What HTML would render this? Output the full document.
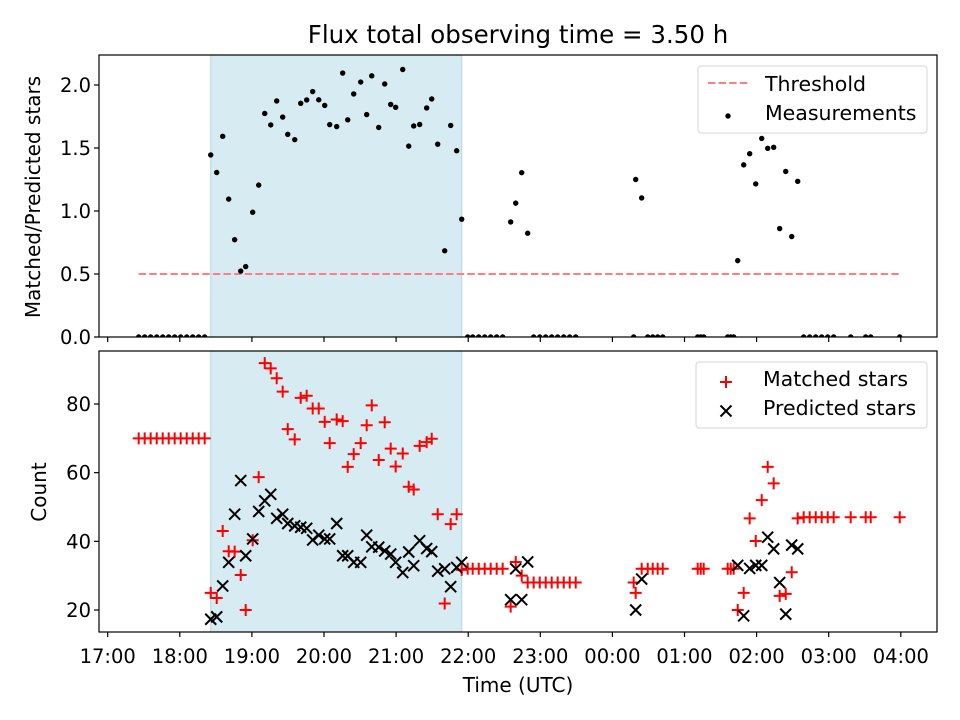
<!DOCTYPE html>
<html><head><meta charset="utf-8"><style>
html,body{margin:0;padding:0;background:#fff;}
svg{display:block;font-family:"DejaVu Sans","Liberation Sans",sans-serif;}
</style></head><body>
<svg id="chart" width="960" height="720" viewBox="0 0 960 720" xmlns="http://www.w3.org/2000/svg"></svg>
<script>
// hours after 17:00 UTC
const times = [0.43,0.513,0.596,0.68,0.763,0.846,0.929,1.012,1.096,1.179,1.262,1.345,
1.429,1.512,1.595,1.678,1.761,1.845,1.914,2.011,2.094,2.178,2.261,2.344,2.427,2.497,2.594,2.677,2.76,2.843,2.927,3.01,3.079,3.176,3.259,3.329,3.412,3.509,3.592,3.662,3.759,3.842,3.925,3.994,4.092,4.175,4.244,4.327,4.424,4.494,4.577,4.674,4.757,4.84,4.91,
4.993,5.062,5.146,5.229,5.312,5.395,5.478,
5.589,5.659,5.742,5.825,
5.908,5.992,6.075,6.158,6.241,6.325,6.408,6.491,
7.295,7.323,7.406,7.49,7.559,7.628,7.698,
8.183,8.225,8.266,8.599,8.641,8.682,
8.738,8.821,8.904,8.988,9.071,9.154,9.237,9.32,9.404,9.487,9.57,
9.653,9.736,9.82,9.903,9.986,10.069,10.305,10.513,10.583,10.985];
const matched = [70,70,70,70,70,70,70,70,70,70,70,70,
25,23.5,43,37.1,37,30.2,20,40.3,58.7,91.9,90.4,87.5,83.6,72.7,69.7,81.8,82.4,78.7,78.7,74.8,68.6,75.5,75,61.7,65.4,68.6,73.8,79.6,63.7,74.7,67,61.8,65.6,55.9,55.1,67.8,68.9,69.9,47.9,21.9,45,47.9,31.7,
32,32,32,32,32,32,32,
21,34,30,28,
28,28,28,28,28,28,28,28,
28,25,32,32,32,32,32,
32,32,32,32,32,32,
20,25,46.7,40.1,52,61.7,56.9,24.1,24.7,31,46.7,
47,47,47,47,47,47,47,47,47,47];
const predicted = [null,null,null,null,null,null,null,null,null,null,null,null,
17.3,18,27,33.9,47.9,57.7,35.8,40.7,48.7,51.8,53.7,46.7,47.9,45.2,44.5,44.1,43.8,40.4,41.8,40.7,40.7,45.2,35.8,35.8,33.9,33.9,41.8,38.4,38.3,37.2,36.3,33.9,30.9,36.9,32.9,40.2,37.9,37,31.3,32,26.8,32.4,33.9,
null,null,null,null,null,null,null,
23,32,23,34,
null,null,null,null,null,null,null,null,
null,20,29,null,null,null,null,
null,null,null,null,null,null,
33,18.3,32.1,33,33,41.2,37.8,28,18.8,38.9,37.8,
null,null,null,null,null,null,null,null,null,null];
const threshold = 0.5;
const shadeStartIdx = 12, shadeEndIdx = 54;
const xTickLabels = ["17:00","18:00","19:00","20:00","21:00","22:00","23:00","00:00","01:00","02:00","03:00","04:00"];
const topTicks = [0,0.5,1,1.5,2];
const botTicks = [20,40,60,80];

const NS = "http://www.w3.org/2000/svg";
const svg = document.getElementById('chart');
function el(tag, attrs, parent){ const e=document.createElementNS(NS,tag); for(const k in attrs) e.setAttribute(k,attrs[k]); (parent||svg).appendChild(e); return e; }

const L=99, R=937, T1=55, B1=337, T2=351, B2=632;
const xS = t => 107.7 + t*72.1;
const yTop = v => 337 - v*126;
const yBot = v => 610 - (v-20)*3.433;
const ratio = matched.map((m,i)=> predicted[i] ? m/predicted[i] : 0);

function clip(id,top,bot){ const d=el('defs',{}); const c=el('clipPath',{id:id},d); el('rect',{x:L,y:top,width:R-L,height:bot-top},c); }
clip('c1',T1,B1); clip('c2',T2,B2);

[[T1,B1],[T2,B2]].forEach((p,k)=>{
  const r=el('rect',{x:xS(times[shadeStartIdx]),y:p[0],width:xS(times[shadeEndIdx])-xS(times[shadeStartIdx]),height:p[1]-p[0],fill:'#add8e6','fill-opacity':0.5,stroke:'#add8e6'});
  
  
});

const th=el('line',{x1:xS(times[0]),x2:xS(times[times.length-1]),y1:yTop(threshold),y2:yTop(threshold),stroke:'#ff7f7f','stroke-width':2,'stroke-dasharray':'7.4,3.2'});



const g1=el('g',{'clip-path':'url(#c1)'});


ratio.forEach((v,i)=>{
  const c=el('circle',{cx:xS(times[i]),cy:yTop(v),r:2.7,fill:'#000'},g1);
  
  
});

const g2=el('g',{'clip-path':'url(#c2)'});


matched.forEach((v,i)=>{
  const x=xS(times[i]), y=yBot(v);
  const p=el('path',{d:`M${x-6},${y}H${x+6}M${x},${y-6}V${y+6}`,stroke:'#ff0000','stroke-width':2,fill:'none'},g2);
  
  
});
predicted.forEach((v,i)=>{
  if(v===null) return;
  const x=xS(times[i]), y=yBot(v);
  const p=el('path',{d:`M${x-5.5},${y-5.5}L${x+5.5},${y+5.5}M${x-5.5},${y+5.5}L${x+5.5},${y-5.5}`,stroke:'#000','stroke-width':2,fill:'none'},g2);
  
  
});

[[T1,B1,'top-axes-frame'],[T2,B2,'bottom-axes-frame']].forEach(p=>{
  const r=el('rect',{x:L,y:p[0],width:R-L,height:p[1]-p[0],fill:'none',stroke:'#000','stroke-width':1.2});
  
  
});

xTickLabels.forEach((lab,i)=>{
  const x=xS(i);
  el('line',{x1:x,x2:x,y1:B1,y2:B1+5,stroke:'#000','stroke-width':1.2});
  el('line',{x1:x,x2:x,y1:B2,y2:B2+5,stroke:'#000','stroke-width':1.2});
  const t=el('text',{x:x,y:663,'text-anchor':'middle','font-size':19.5,fill:'#000'});
  t.textContent=lab;
  
  
});
topTicks.forEach(v=>{
  const y=yTop(v);
  el('line',{x1:L-5,x2:L,y1:y,y2:y,stroke:'#000','stroke-width':1.2});
  const t=el('text',{x:L-8,y:y+7,'text-anchor':'end','font-size':19.5,fill:'#000'});
  t.textContent=v.toFixed(1);
  
  
});
botTicks.forEach(v=>{
  const y=yBot(v);
  el('line',{x1:L-5,x2:L,y1:y,y2:y,stroke:'#000','stroke-width':1.2});
  const t=el('text',{x:L-8,y:y+7,'text-anchor':'end','font-size':19.5,fill:'#000'});
  t.textContent=String(v);
  
  
});
</script>
<svg style="position:absolute;left:0;top:0" width="960" height="720">
  <text x="518" y="43" text-anchor="middle" font-size="24.5" font-family="DejaVu Sans, Liberation Sans, sans-serif">Flux total observing time = 3.50 h</text>
  <text transform="translate(40,197) rotate(-90)" text-anchor="middle" font-size="20" font-family="DejaVu Sans, Liberation Sans, sans-serif">Matched/Predicted stars</text>
  <text transform="translate(46,492) rotate(-90)" text-anchor="middle" font-size="20" font-family="DejaVu Sans, Liberation Sans, sans-serif">Count</text>
  <text x="518" y="692" text-anchor="middle" font-size="20" font-family="DejaVu Sans, Liberation Sans, sans-serif">Time (UTC)</text>
  <g font-family="DejaVu Sans, Liberation Sans, sans-serif" font-size="20.5">
    <rect x="698" y="66" width="229" height="67" rx="3" fill="#fff" fill-opacity="0.8" stroke="#d6d6d6"/>
    <line x1="708" x2="748" y1="83" y2="83" stroke="#ff7f7f" stroke-width="2" stroke-dasharray="7.4,3.2"/>
    <text x="765" y="91">Threshold</text>
    <circle cx="728" cy="116" r="2.7" fill="#000"/>
    <text x="765" y="120">Measurements</text>
  </g>
  <g font-family="DejaVu Sans, Liberation Sans, sans-serif" font-size="20.5">
    <rect x="696" y="362" width="231" height="66" rx="3" fill="#fff" fill-opacity="0.8" stroke="#d6d6d6"/>
    <path d="M720,382H732M726,376V388" stroke="#f00" stroke-width="2"/>
    <text x="763" y="386">Matched stars</text>
    <path d="M720.5,405.5L731.5,416.5M720.5,416.5L731.5,405.5" stroke="#000" stroke-width="2"/>
    <text x="763" y="415">Predicted stars</text>
  </g>
</svg>
</body></html>
